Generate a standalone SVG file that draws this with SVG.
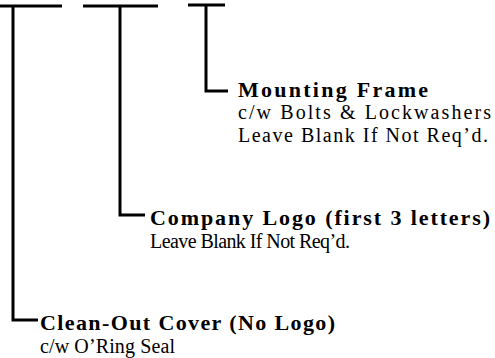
<svg xmlns="http://www.w3.org/2000/svg" width="495" height="358" viewBox="0 0 495 358">
<style>
.c{fill:none;stroke:#000;stroke-width:3;stroke-linecap:butt;stroke-linejoin:miter}
.b{font-family:"Liberation Serif","Times New Roman",serif;font-size:22px;font-weight:bold;fill:#000}
.r{font-family:"Liberation Serif","Times New Roman",serif;font-size:20px;fill:#000}
</style>
<rect width="495" height="358" fill="#fff"/>
<g id="connectors">
<path class="c" d="M0 6H62M13 6V320H38"/>
<path class="c" d="M83 6H158M120 6V215H145"/>
<path class="c" d="M188 5H225M206 5V91H228"/>
</g>
<g id="mounting-frame">
<text class="b" x="238" y="97" textLength="190" lengthAdjust="spacing">Mounting Frame</text>
<text class="r" x="238" y="119" textLength="253" lengthAdjust="spacing">c/w Bolts &amp; Lockwashers</text>
<text class="r" x="238" y="142" textLength="250" lengthAdjust="spacing">Leave Blank If Not Req’d.</text>
</g>
<g id="company-logo">
<text class="b" x="150" y="225" textLength="340" lengthAdjust="spacing">Company Logo (first 3 letters)</text>
<text class="r" x="150" y="248" textLength="200" lengthAdjust="spacing">Leave Blank If Not Req’d.</text>
</g>
<g id="clean-out-cover">
<text class="b" x="40" y="330" textLength="295" lengthAdjust="spacing">Clean-Out Cover (No Logo)</text>
<text class="r" x="40" y="353" textLength="135" lengthAdjust="spacing">c/w O’Ring Seal</text>
</g>
</svg>
